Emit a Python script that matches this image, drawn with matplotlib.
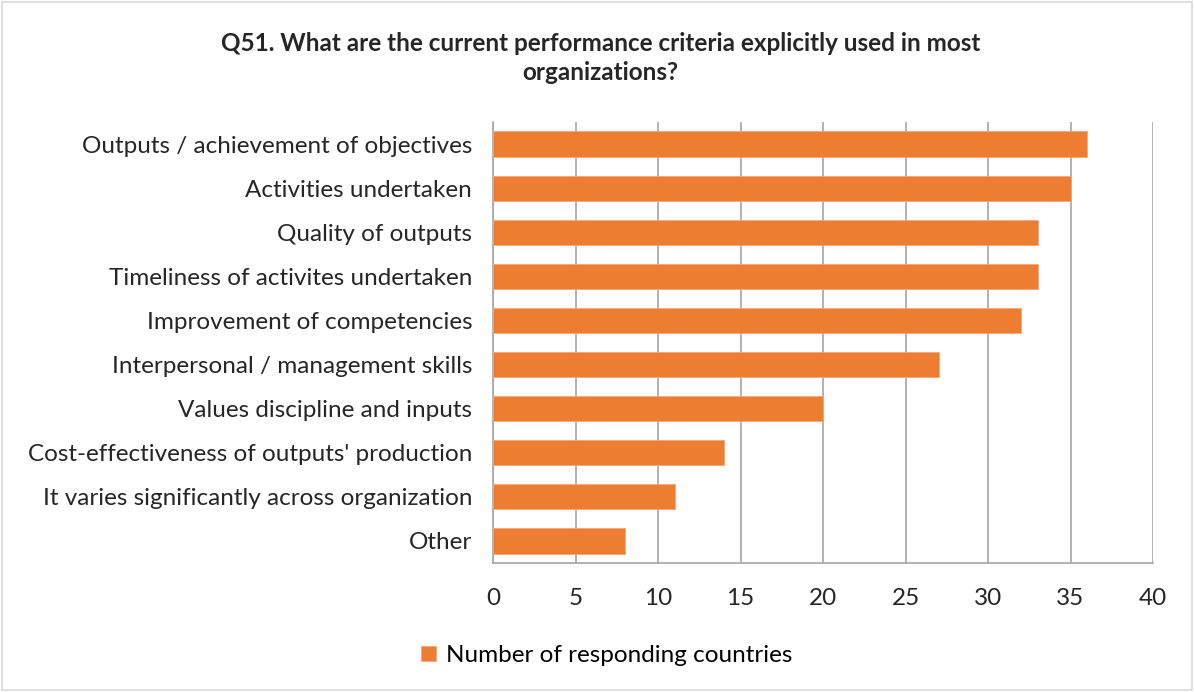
import matplotlib.pyplot as plt
from matplotlib.patches import Rectangle

categories = [
    "Outputs / achievement of objectives",
    "Activities undertaken",
    "Quality of outputs",
    "Timeliness of activites undertaken",
    "Improvement of competencies",
    "Interpersonal / management skills",
    "Values discipline and inputs",
    "Cost-effectiveness of outputs' production",
    "It varies significantly across organization",
    "Other",
]
values = [36, 35, 33, 33, 32, 27, 20, 14, 11, 8]
xticks = [0, 5, 10, 15, 20, 25, 30, 35, 40]

plt.rcParams['font.family'] = ['Lato', 'DejaVu Sans']

fig = plt.figure(figsize=(11.94, 6.92), dpi=100)
ax = fig.add_axes([0.4129, 0.1864, 0.5528, 0.6373])

pos = list(range(len(categories)))[::-1]
ax.barh(pos, values, height=0.57, color='#ED7D31', edgecolor='#F4A77A',
        linewidth=0.6, label='Number of responding countries', zorder=3)
ax.set_yticks(pos)
ax.set_yticklabels(categories, fontsize=17.5, color='#262626')
ax.set_xlim(0, 40)
ax.set_ylim(-0.5, len(categories) - 0.5)
ax.set_xticks(xticks)
ax.set_xticklabels([str(t) for t in xticks], fontsize=17.5, color='#262626')
ax.tick_params(axis='both', length=0)
ax.tick_params(axis='x', pad=18)
ax.tick_params(axis='y', pad=15)
ax.grid(axis='x', color='#A6A6A6', linewidth=1.2, zorder=0)
for s in ['top', 'right']:
    ax.spines[s].set_visible(False)
for s in ['left', 'bottom']:
    ax.spines[s].set_color('#A6A6A6')
    ax.spines[s].set_linewidth(1.2)

fig.text(0.503, 0.916, "Q51. What are the current performance criteria explicitly used in most\norganizations?",
         ha='center', va='center', fontsize=17.5, fontweight='bold', color='#262626',
         linespacing=1.35)

fig.legend(loc='center', bbox_to_anchor=(0.508, 0.053), frameon=False, fontsize=17.5,
           handlelength=0.6, handleheight=0.6, handletextpad=0.4)

fig.patches.append(Rectangle((0.002, 0.003), 0.996, 0.994, transform=fig.transFigure,
                             fill=False, edgecolor='#D9D9D9', linewidth=1.2))

fig.savefig('out.png', dpi=100)
